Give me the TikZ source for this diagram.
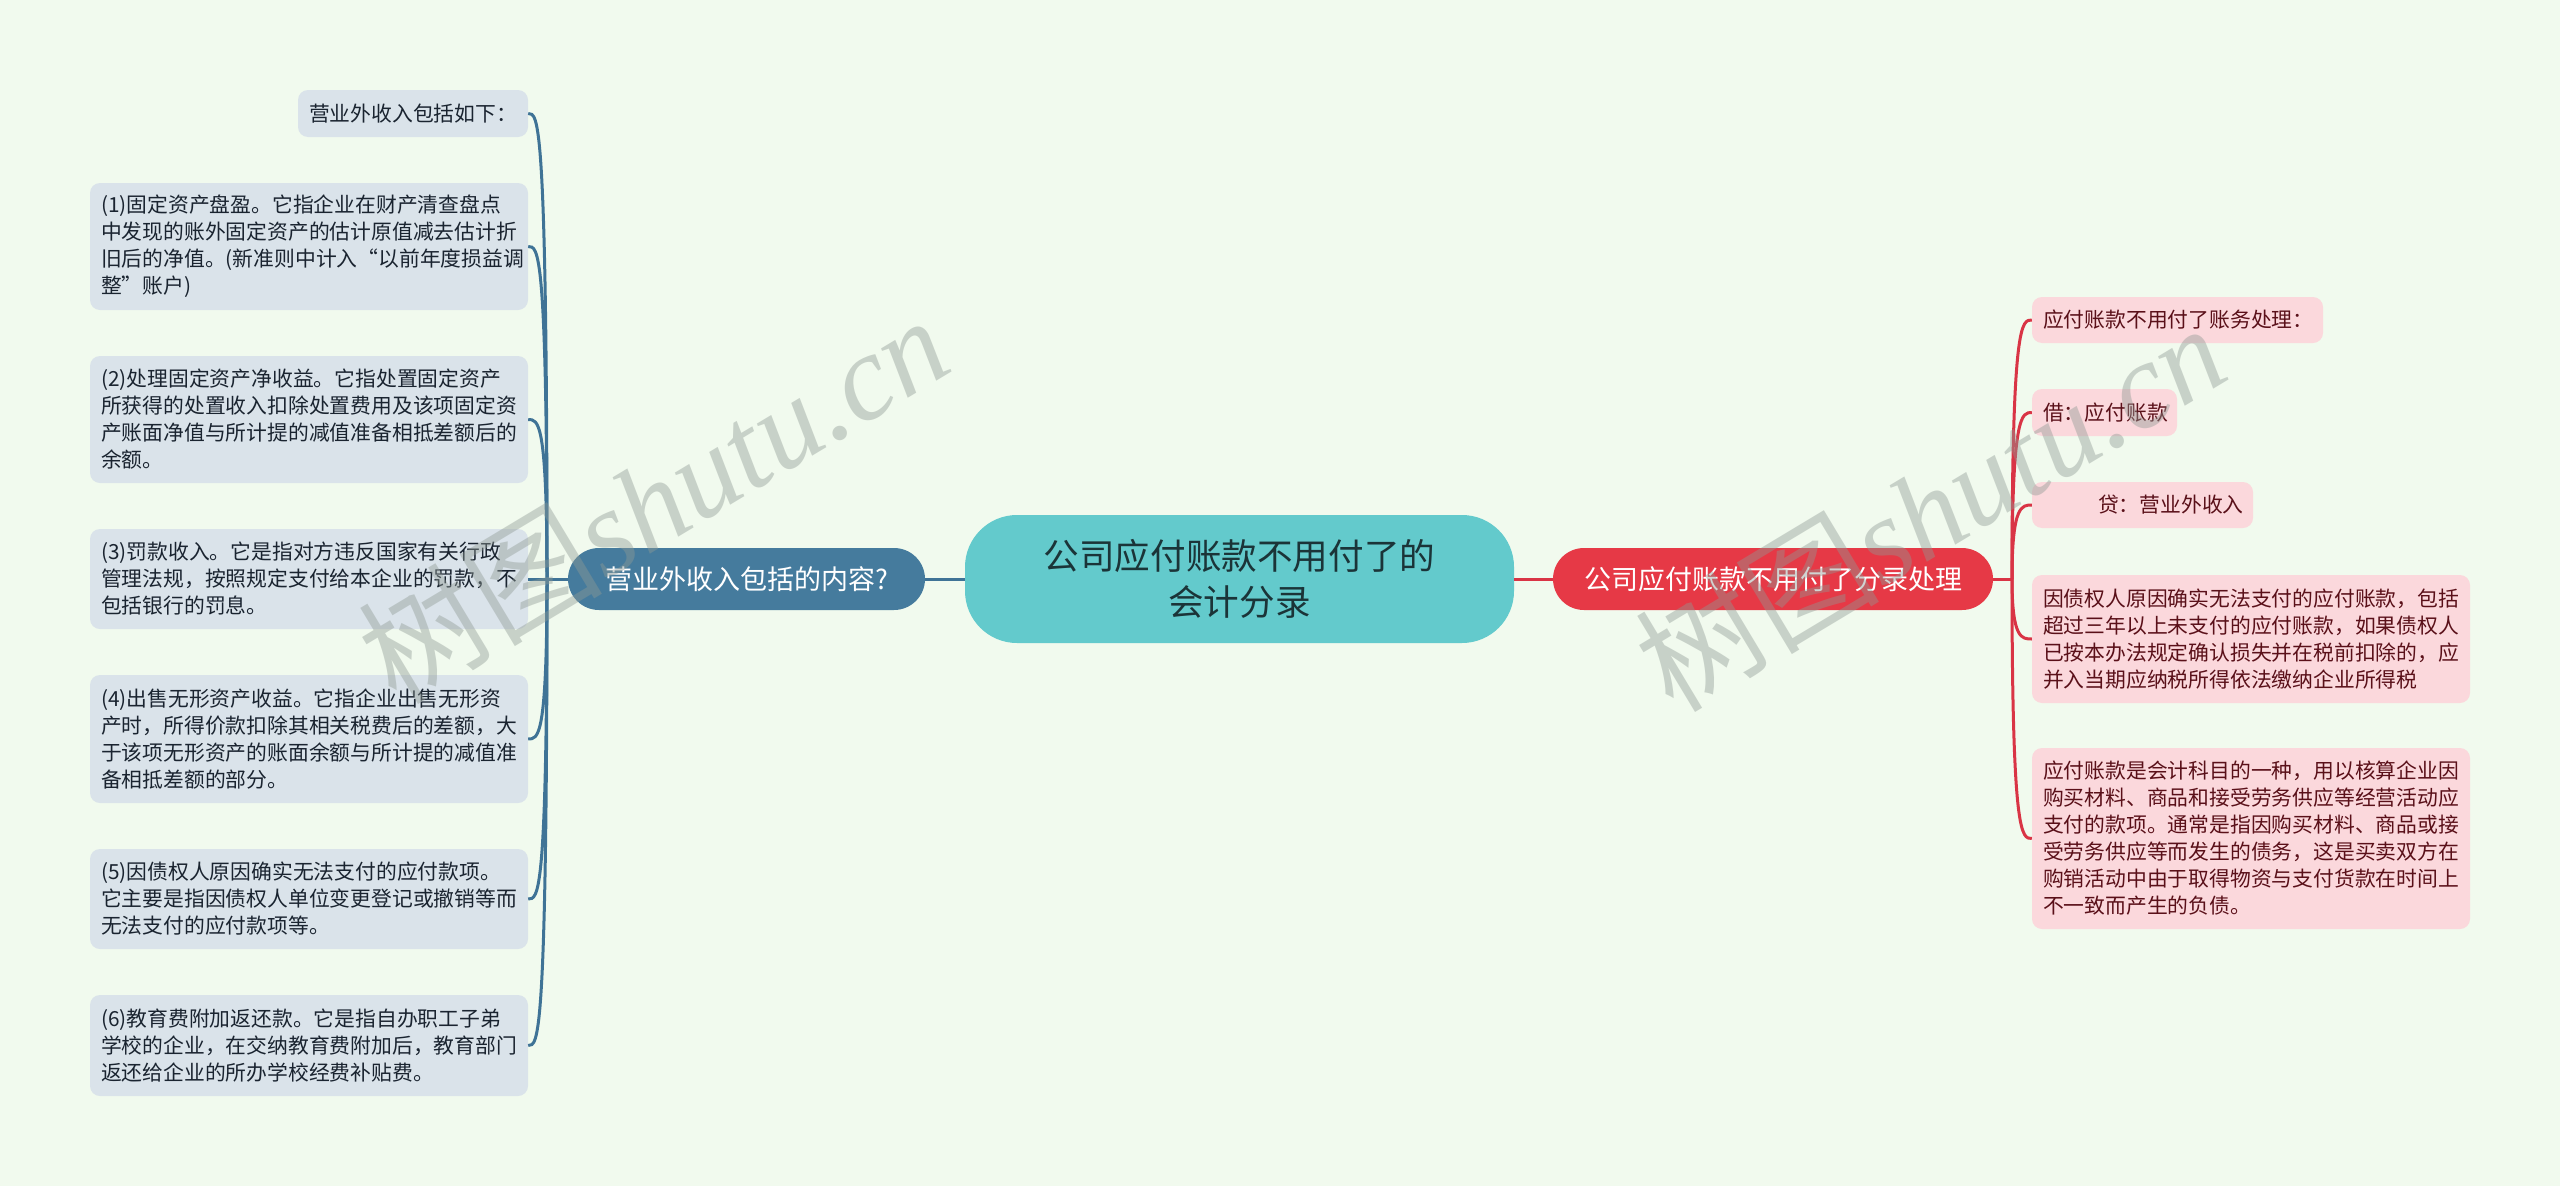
\documentclass[tikz,border=0pt]{standalone}
\usepackage{fontspec}
\setmainfont{Noto Sans CJK SC}
\newfontfamily\wmser{Liberation Serif}
\usetikzlibrary{calc}
\definecolor{bg}{HTML}{F1FAEE}
\definecolor{lleafc}{HTML}{DAE3EA}
\definecolor{rleafc}{HTML}{FBD8DC}
\definecolor{lblue}{HTML}{457B9D}
\definecolor{lline}{HTML}{3F7396}
\definecolor{rred}{HTML}{E63946}
\definecolor{rline}{HTML}{D93445}
\definecolor{rootc}{HTML}{63CACC}
\definecolor{roottext}{HTML}{1B3438}
\definecolor{ltext}{HTML}{1A2430}
\definecolor{rtext}{HTML}{5A1019}
\definecolor{wmgray}{HTML}{8F9A94}
\begin{document}
\begin{tikzpicture}[x=1pt,y=-1pt,
  leafbase/.style={draw=none, rounded corners=10pt, inner xsep=11pt, inner ysep=0pt, align=left,
    font=\fontsize{20.8}{27}\selectfont},
  lleaf/.style={leafbase, fill=lleafc, text=ltext},
  rleaf/.style={leafbase, fill=rleafc, text=rtext},
  mainbox/.style={draw=none, rounded corners=31pt, inner sep=0pt, minimum height=62pt, text=white,
    font=\fontsize{27}{32}\selectfont},
  lcon/.style={draw=lline, line width=3pt},
  rcon/.style={draw=rline, line width=3pt},
  wmark/.style={text=wmgray, opacity=0.42, rotate=31, inner sep=0pt, font=\fontsize{122}{122}\selectfont}
]
\useasboundingbox (0,0) rectangle (2560,1186);
\fill[bg] (0,0) rectangle (2560,1186);

% root
\node[draw=none, fill=rootc, rounded corners=52pt, minimum width=549pt, minimum height=128pt, inner sep=0pt,
  align=center, text=roottext, font=\fontsize{35.6}{46}\selectfont] (root) at (1239.5,579)
  {公司应付账款不用付了的\\会计分录};

% main branches
\node[mainbox, fill=lblue, minimum width=357pt] (lmain) at (746.5,579) {营业外收入包括的内容?};
\node[mainbox, fill=rred, minimum width=440pt] (rmain) at (1773,579) {公司应付账款不用付了分录处理};

% left leaves
\node[lleaf, text width=208pt, minimum height=47pt] (l0) at (413,113.5) {营业外收入包括如下：};
\node[lleaf, text width=416pt, minimum height=127pt] (l1) at (309,246.5)
  {(1)固定资产盘盈。它指企业在财产清查盘点\\中发现的账外固定资产的估计原值减去估计折\\旧后的净值。(新准则中计入“以前年度损益调\\整”账户)};
\node[lleaf, text width=416pt, minimum height=127pt] (l2) at (309,419.5)
  {(2)处理固定资产净收益。它指处置固定资产\\所获得的处置收入扣除处置费用及该项固定资\\产账面净值与所计提的减值准备相抵差额后的\\余额。};
\node[lleaf, text width=416pt, minimum height=100pt] (l3) at (309,579)
  {(3)罚款收入。它是指对方违反国家有关行政\\管理法规，按照规定支付给本企业的罚款，不\\包括银行的罚息。};
\node[lleaf, text width=416pt, minimum height=128pt] (l4) at (309,739)
  {(4)出售无形资产收益。它指企业出售无形资\\产时，所得价款扣除其相关税费后的差额，大\\于该项无形资产的账面余额与所计提的减值准\\备相抵差额的部分。};
\node[lleaf, text width=416pt, minimum height=100pt] (l5) at (309,899)
  {(5)因债权人原因确实无法支付的应付款项。\\它主要是指因债权人单位变更登记或撤销等而\\无法支付的应付款项等。};
\node[lleaf, text width=416pt, minimum height=101pt] (l6) at (309,1045.5)
  {(6)教育费附加返还款。它是指自办职工子弟\\学校的企业，在交纳教育费附加后，教育部门\\返还给企业的所办学校经费补贴费。};

% right leaves
\node[rleaf, text width=269pt, minimum height=46pt] (r0) at (2177.5,320) {应付账款不用付了账务处理：};
\node[rleaf, text width=123pt, minimum height=47pt] (r1) at (2104.5,412.5) {借：应付账款};
\node[rleaf, text width=199pt, minimum height=46pt] (r2) at (2142.5,505) {\hspace*{55pt}贷：营业外收入};
\node[rleaf, text width=416pt, minimum height=128pt] (r3) at (2251,639)
  {因债权人原因确实无法支付的应付账款，包括\\超过三年以上未支付的应付账款，如果债权人\\已按本办法规定确认损失并在税前扣除的，应\\并入当期应纳税所得依法缴纳企业所得税};
\node[rleaf, text width=416pt, minimum height=181pt] (r4) at (2251,838.5)
  {应付账款是会计科目的一种，用以核算企业因\\购买材料、商品和接受劳务供应等经营活动应\\支付的款项。通常是指因购买材料、商品或接\\受劳务供应等而发生的债务，这是买卖双方在\\购销活动中由于取得物资与支付货款在时间上\\不一致而产生的负债。};

% connectors
\coordinate (lhub) at (547,579);
\coordinate (rhub) at (2012,579);
\draw[lcon] (root.west) -- (lmain.east);
\draw[rcon] (root.east) -- (rmain.west);
\draw[lcon] (lmain.west) -- (lhub);
\draw[rcon] (rmain.east) -- (rhub);
\foreach \n in {l0,l1,l2,l3,l4,l5,l6}
  \draw[lcon] (lhub) .. controls (lhub |- \n.east) and ($(\n.east)+(10,0)$) .. (\n.east);
\foreach \n in {r0,r1,r2,r3,r4}
  \draw[rcon] (rhub) .. controls (rhub |- \n.west) and ($(\n.west)+(-10,0)$) .. (\n.west);

% watermarks
\node[wmark] (wm1) at (653,498) {树图{\wmser\itshape shutu.cn}};
\node[wmark] (wm2) at (1930,506) {树图{\wmser\itshape shutu.cn}};
\end{tikzpicture}
\end{document}
